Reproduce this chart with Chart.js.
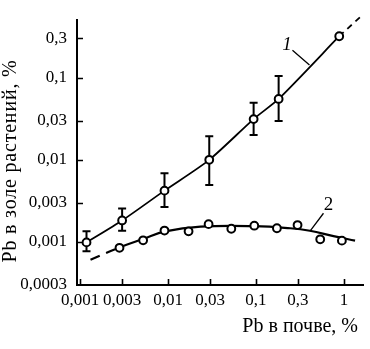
<!DOCTYPE html>
<html>
<head>
<meta charset="utf-8">
<script src="https://cdn.jsdelivr.net/npm/chart.js@4/dist/chart.umd.min.js"></script>
<style>
  html, body { margin: 0; padding: 0; background: #fff; }
  #wrap { width: 370px; height: 349px; position: relative; }
</style>
</head>
<body>
<div id="wrap"><canvas id="c"></canvas></div>
<script>
// Pb content in soil (x, %) against Pb in plant ash (y, %), log-log axes

const xTicks = [0.001, 0.003, 0.01, 0.03, 0.1, 0.3, 1];
const xTickLabels = ['0,001', '0,003', '0,01', '0,03', '0,1', '0,3', '1'];
const yTicks = [0.0003, 0.001, 0.003, 0.01, 0.03, 0.1, 0.3];
const yTickLabels = ['0,0003', '0,001', '0,003', '0,01', '0,03', '0,1', '0,3'];

// curve 1: mean values with their spread
const soil1 = [0.00118, 0.0030, 0.0091, 0.0294, 0.094, 0.181, 0.885];
const ash1 = [0.00099, 0.00183, 0.00422, 0.0100, 0.0313, 0.0551, 0.319];
const ash1Low = [0.00077, 0.00137, 0.00267, 0.00494, 0.0200, 0.0297, null];
const ash1High = [0.00135, 0.00256, 0.00685, 0.0193, 0.0495, 0.1045, null];

// dashed continuation of curve 1
const soil1Ext = [0.885, 1.6];
const ash1Ext = [0.319, 0.57];

// curve 2: measured points
const soil2 = [0.0028, 0.0052, 0.0091, 0.0171, 0.0289, 0.0524, 0.0957, 0.173, 0.297, 0.538, 0.949];
const ash2 = [0.00085, 0.00105, 0.00138, 0.00135, 0.00165, 0.00145, 0.00158, 0.00147, 0.00161, 0.00108, 0.00104];

// curve 2: smoothed trend (first stretch dashed)
const soil2Fit = [0.00131, 0.0028, 0.0052, 0.0093, 0.0234, 0.0957, 0.245, 0.41, 0.762, 1.34];
const ash2Fit = [0.00061, 0.00086, 0.00109, 0.00135, 0.00154, 0.00156, 0.00147, 0.00137, 0.00118, 0.00104];

const xTitle = 'Pb в почве, %';
const yTitle = 'Pb в золе растений, %';
const curveNames = ['1', '2'];

const FONT = '"Liberation Serif", "Times New Roman", serif';
const pts = (xs, ys) => xs.map((v, i) => ({ x: v, y: ys[i] }));

// error bars, inward tick marks, curve captions and axis titles
const decor = {
  id: 'decor',
  beforeDatasetsDraw(chart) {
    const { ctx, scales: { x, y } } = chart;
    ctx.save();
    ctx.strokeStyle = '#000';
    ctx.lineWidth = 2;
    soil1.forEach((s, i) => {
      if (ash1Low[i] == null) return;
      const px = x.getPixelForValue(s);
      const top = y.getPixelForValue(ash1High[i]);
      const bot = y.getPixelForValue(ash1Low[i]);
      ctx.beginPath();
      ctx.moveTo(px, top); ctx.lineTo(px, bot);
      ctx.moveTo(px - 4, top); ctx.lineTo(px + 4, top);
      ctx.moveTo(px - 4, bot); ctx.lineTo(px + 4, bot);
      ctx.stroke();
    });
    ctx.restore();
  },
  afterDraw(chart) {
    const { ctx, chartArea: a, scales: { x, y } } = chart;
    ctx.save();
    ctx.strokeStyle = '#000';
    ctx.fillStyle = '#000';
    ctx.lineWidth = 1.6;
    ctx.beginPath();
    xTicks.forEach(v => {
      const px = Math.round(x.getPixelForValue(v)) + 0.5;
      ctx.moveTo(px, a.bottom); ctx.lineTo(px, a.bottom - 6);
    });
    yTicks.forEach(v => {
      const py = Math.round(y.getPixelForValue(v)) + 0.5;
      if (py > a.bottom - 2) return;
      ctx.moveTo(a.left, py); ctx.lineTo(a.left + 6, py);
    });
    ctx.stroke();

    // leader lines to the curve captions
    ctx.lineWidth = 1.3;
    ctx.beginPath();
    ctx.moveTo(x.getPixelForValue(0.26), y.getPixelForValue(0.215));
    ctx.lineTo(x.getPixelForValue(0.406), y.getPixelForValue(0.1426));
    ctx.moveTo(x.getPixelForValue(0.586), y.getPixelForValue(0.00224));
    ctx.lineTo(x.getPixelForValue(0.414), y.getPixelForValue(0.00137));
    ctx.stroke();

    ctx.textAlign = 'center';
    ctx.textBaseline = 'middle';
    ctx.font = 'italic 19px ' + FONT;
    ctx.fillText(curveNames[0], x.getPixelForValue(0.225), y.getPixelForValue(0.252));
    ctx.font = '19px ' + FONT;
    ctx.fillText(curveNames[1], x.getPixelForValue(0.668), y.getPixelForValue(0.00284));

    // axis titles
    ctx.font = '20px ' + FONT;
    ctx.textAlign = 'right';
    ctx.fillText(xTitle, 358, 327);
    ctx.translate(11, 161);
    ctx.rotate(-Math.PI / 2);
    ctx.textAlign = 'center';
    ctx.letterSpacing = '0.8px';
    ctx.fillText(yTitle, 0, 0);
    ctx.restore();
  }
};

const tickFont = { family: FONT, size: 17 };

new Chart(document.getElementById('c'), {
  type: 'scatter',
  data: {
    datasets: [
      {
        data: pts(soil2, ash2),
        showLine: false,
        pointRadius: 3.9,
        pointBorderWidth: 2,
        pointBackgroundColor: '#fff',
        pointBorderColor: '#000'
      },
      {
        data: pts(soil1, ash1),
        showLine: true,
        tension: 0.25,
        borderColor: '#000',
        borderWidth: 1.8,
        pointRadius: 3.9,
        pointBorderWidth: 2,
        pointBackgroundColor: '#fff',
        pointBorderColor: '#000'
      },
      {
        data: pts(soil1Ext, ash1Ext),
        showLine: true,
        borderColor: '#000',
        borderWidth: 1.8,
        borderDash: [6, 5],
        pointRadius: 0,
        clip: false
      },
      {
        data: pts(soil2Fit, ash2Fit),
        showLine: true,
        tension: 0.4,
        borderColor: '#000',
        borderWidth: 2.2,
        pointRadius: 0,
        segment: {
          borderDash: c => (c.p0DataIndex === 0 ? [10, 7] : undefined)
        }
      }
    ]
  },
  options: {
    responsive: true,
    maintainAspectRatio: false,
    animation: false,
    events: [],
    layout: { padding: { top: 5, right: 7, left: 0, bottom: 0 } },
    plugins: { legend: { display: false }, tooltip: { enabled: false } },
    scales: {
      x: {
        type: 'logarithmic',
        min: 0.00092,
        max: 1.65,
        afterBuildTicks: s => { s.ticks = xTicks.map(v => ({ value: v })); },
        afterFit: s => { s.height = 64; },
        grid: { display: false, drawTicks: false },
        border: { display: true, color: '#000', width: 2 },
        ticks: {
          autoSkip: false, maxRotation: 0, minRotation: 0, padding: 5,
          color: '#000', font: tickFont,
          callback: (v, i) => xTickLabels[i]
        }
      },
      y: {
        type: 'logarithmic',
        min: 0.0003,
        max: 0.5,
        afterBuildTicks: s => { s.ticks = yTicks.map(v => ({ value: v })); },
        afterFit: s => { s.width = 77; },
        grid: { display: false, drawTicks: false },
        border: { display: true, color: '#000', width: 2 },
        ticks: {
          autoSkip: false, padding: 10,
          color: '#000', font: tickFont,
          callback: (v, i) => yTickLabels[i]
        }
      }
    }
  },
  plugins: [decor]
});
</script>
</body>
</html>
